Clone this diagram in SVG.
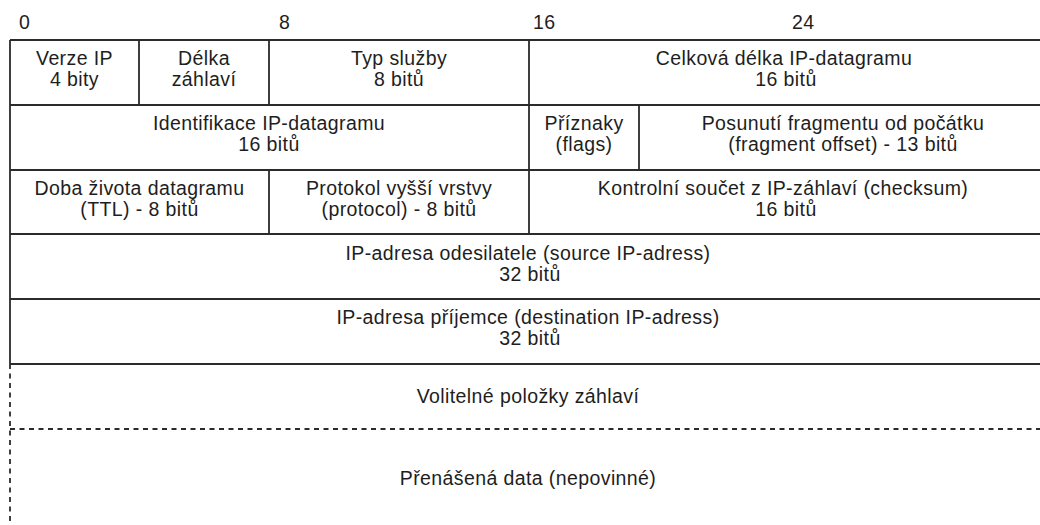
<svg xmlns="http://www.w3.org/2000/svg" width="1040" height="525" viewBox="0 0 1040 525">
<style>
text{font-family:"Liberation Sans",Arial,sans-serif;font-size:19.5px;letter-spacing:0.4px;fill:#1e1e1e;text-anchor:middle}
text.bit{text-anchor:start}
.ln{stroke:#2b2b2b;stroke-width:1.8;fill:none}
.dash{stroke:#2b2b2b;stroke-width:1.8;fill:none;stroke-dasharray:5 4.5}
</style>
<rect width="1040" height="525" fill="#fff"/>
<g id="bit-scale">
<text class="bit" x="19" y="29">0</text>
<text class="bit" x="279" y="29">8</text>
<text class="bit" x="533" y="29">16</text>
<text class="bit" x="792" y="29">24</text>
</g>
<g id="grid">
<path class="ln" d="M10 40H1040M10 105H1040M10 170H1040M10 234H1040M10 299H1040M10 364H1040"/>
<path class="ln" d="M10 40V364M139 40V105M269 40V105M269 170V234M529 40V234M639 105V170"/>
<path class="dash" d="M10 429H1040M10 364V525"/>
</g>
<g id="verze"><text x="74.5" y="65">Verze IP</text><text x="74.5" y="86">4 bity</text></g>
<g id="delka"><text x="204" y="65">Délka</text><text x="204" y="86">záhlaví</text></g>
<g id="typ"><text x="399" y="65">Typ služby</text><text x="399" y="86">8 bitů</text></g>
<g id="celkova"><text x="784" y="65">Celková délka IP-datagramu</text><text x="786" y="86">16 bitů</text></g>
<g id="identifikace"><text x="269" y="130">Identifikace IP-datagramu</text><text x="269" y="151">16 bitů</text></g>
<g id="priznaky"><text x="584" y="130">Příznaky</text><text x="584" y="151">(flags)</text></g>
<g id="posunuti"><text x="843" y="130">Posunutí fragmentu od počátku</text><text x="843" y="151">(fragment offset) - 13 bitů</text></g>
<g id="ttl"><text x="139.5" y="195">Doba života datagramu</text><text x="139.5" y="216">(TTL) - 8 bitů</text></g>
<g id="protokol"><text x="399" y="195">Protokol vyšší vrstvy</text><text x="399" y="216">(protocol) - 8 bitů</text></g>
<g id="checksum"><text x="783" y="195">Kontrolní součet z IP-záhlaví (checksum)</text><text x="786" y="216">16 bitů</text></g>
<g id="source"><text x="528" y="260">IP-adresa odesilatele (source IP-adress)</text><text x="530" y="281">32 bitů</text></g>
<g id="destination"><text x="528" y="324">IP-adresa příjemce (destination IP-adress)</text><text x="530" y="345">32 bitů</text></g>
<g id="volitelne"><text x="528" y="403">Volitelné položky záhlaví</text></g>
<g id="data"><text x="528" y="485">Přenášená data (nepovinné)</text></g>
</svg>
